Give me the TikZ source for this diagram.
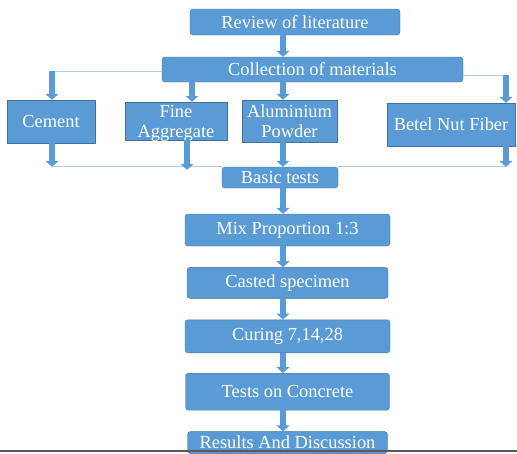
\documentclass[tikz,border=0pt]{standalone}
\usepackage{fontspec}
\setmainfont{Liberation Serif}
\usetikzlibrary{arrows.meta,positioning}
\definecolor{boxblue}{HTML}{5B9BD5}
\definecolor{boxedge}{HTML}{41719C}
\definecolor{linkblue}{HTML}{B4CDE6}

\begin{document}
\begin{tikzpicture}[x=1pt,y=-1pt,
    stage/.style={draw=boxedge,fill=boxblue,text=white,rounded corners=3pt,
      inner sep=0pt,font=\fontsize{18.4}{20}\selectfont,align=center},
    material/.style={stage,rounded corners=0pt},
    twoline/.style={text height=33pt,text depth=0pt},
    flow/.style={draw=boxblue,line width=5.5pt,-{Triangle[width=13pt,length=6pt]}},
    link/.style={draw=linkblue,line width=1pt}]

  \useasboundingbox (0,0) rectangle (517,453);

  \coordinate (spine)    at (283,0);
  \coordinate (westturn) at (52,71);
  \coordinate (eastturn) at (506,75);

  % top of the chart
  \node[stage,minimum width=210pt,minimum height=26pt] (review)  at (295,22)    {Review of literature};
  \node[stage,minimum width=301pt,minimum height=25pt] (collect) at (312.5,69.5) {Collection of materials};

  % the four materials
  \node[material,minimum width=88pt,minimum height=43pt]  (cement) at (51,121.5)  {Cement};
  \node[material,twoline,minimum width=102pt,minimum height=38pt] (fine) at (176,121) {Fine\\Aggregate};
  \node[material,twoline,minimum width=95pt,minimum height=42pt]  (alu)  at (289.5,121) {Aluminium\\Powder};
  \node[material,minimum width=128pt,minimum height=43pt] (betel)  at (451,124.5) {Betel Nut Fiber};

  \node[stage,minimum width=116pt,minimum height=21pt] (basic) at (280,177.5) {Basic tests};

  % main line downwards
  \node[stage,minimum width=205pt,minimum height=32pt] (mix)  at (287.5,230)  {Mix Proportion 1:3};
  \node[stage,minimum width=201pt,minimum height=31pt] (cast) [below=21pt of mix]  {Casted specimen};
  \node[stage,minimum width=205pt,minimum height=33pt] (cure) [below=21pt of cast] {Curing 7,14,28};
  \node[stage,minimum width=204pt,minimum height=37pt] (conc) [below=20pt of cure] {Tests on Concrete};
  \node[stage,minimum width=200pt,minimum height=22pt] (result) [below=21pt of conc] {Results And Discussion};

  % thin branch lines
  \draw[link] (collect.west |- westturn) -- (westturn);
  \draw[link] (collect.east |- eastturn) -- (eastturn);
  \draw[link] (westturn |- basic.north) -- (basic.north west);
  \draw[link] (basic.north east) -- (eastturn |- basic.north);

  % block arrows
  \draw[flow] (review.south -| spine) -- (collect.north -| spine);
  \draw[flow] (westturn) -- (westturn |- cement.north);
  \draw[flow] ([xshift=16pt]fine.north |- collect.south) -- ([xshift=16pt]fine.north);
  \draw[flow] (collect.south -| spine) -- (alu.north -| spine);
  \draw[flow] (eastturn) -- (eastturn |- betel.north);

  \draw[flow] (cement.south -| westturn) -- (westturn |- basic.north);
  \draw[flow] ([xshift=11pt]fine.south) -- ([xshift=11pt,yshift=-3pt]fine.south |- basic.north);
  \draw[flow] (alu.south -| spine) -- (basic.north -| spine);
  \draw[flow] (betel.south -| eastturn) -- (eastturn |- basic.north);

  \draw[flow] (basic.south -| spine) -- (mix.north -| spine);
  \draw[flow] (mix.south -| spine)   -- (cast.north -| spine);
  \draw[flow] (cast.south -| spine)  -- (cure.north -| spine);
  \draw[flow] (cure.south -| spine)  -- (conc.north -| spine);
  \draw[flow] (conc.south -| spine)  -- (result.north -| spine);

  % page edge at the bottom
  \draw[line width=2pt,gray!70!black] (0,451) -- (517,451);
\end{tikzpicture}
\end{document}
